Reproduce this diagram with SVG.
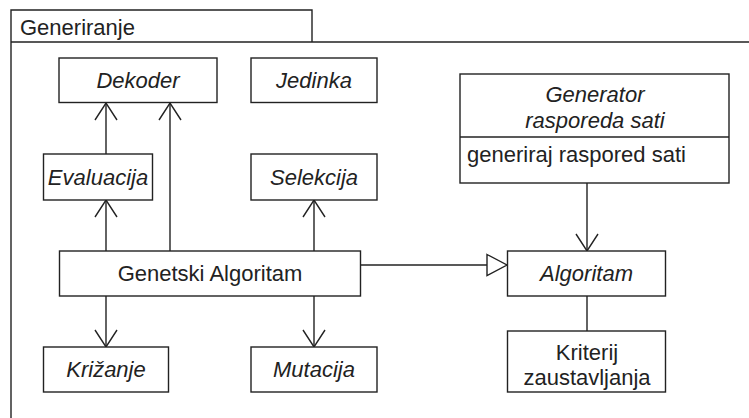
<svg xmlns="http://www.w3.org/2000/svg" width="749" height="418" viewBox="0 0 749 418">
<defs>
<style>
.box{fill:#fff;stroke:#222;stroke-width:1.4}
.ln{fill:none;stroke:#222;stroke-width:1.4}
text{font-family:"Liberation Sans",Arial,sans-serif;font-size:22px;fill:#222}
.i{font-style:italic}
.c{text-anchor:middle}
</style>
<marker id="open" viewBox="0 0 20 24" refX="18" refY="12" markerWidth="20" markerHeight="24" markerUnits="userSpaceOnUse" orient="auto">
<path d="M1,1 L18,12 L1,23" fill="none" stroke="#222" stroke-width="1.4"/>
</marker>
<marker id="tri" viewBox="0 0 22 24" refX="21" refY="12" markerWidth="22" markerHeight="24" markerUnits="userSpaceOnUse" orient="auto">
<path d="M1,1.5 L21,12 L1,22.5 Z" fill="#fff" stroke="#222" stroke-width="1.4"/>
</marker>
</defs>
<rect width="749" height="418" fill="#fff"/>
<g id="frame">
<path class="ln" d="M11,418 L11,10 L312,10 L312,42 M11,42 L749,42"/>
<text x="20" y="35">Generiranje</text>
</g>
<g id="connectors">
<line class="ln" x1="106" y1="251" x2="106" y2="200" marker-end="url(#open)"/>
<line class="ln" x1="106" y1="154" x2="106" y2="103" marker-end="url(#open)"/>
<line class="ln" x1="170" y1="251" x2="170" y2="103" marker-end="url(#open)"/>
<line class="ln" x1="314" y1="251" x2="314" y2="200" marker-end="url(#open)"/>
<line class="ln" x1="106" y1="296" x2="106" y2="347" marker-end="url(#open)"/>
<line class="ln" x1="314" y1="296" x2="314" y2="347" marker-end="url(#open)"/>
<line class="ln" x1="361" y1="265" x2="507" y2="265" marker-end="url(#tri)"/>
<line class="ln" x1="587" y1="183" x2="587" y2="251" marker-end="url(#open)"/>
<line class="ln" x1="587" y1="296" x2="587" y2="331"/>
</g>
<g id="dekoder"><rect class="box" x="59" y="58" width="158" height="44.5"/><text class="i c" x="138" y="87.5">Dekoder</text></g>
<g id="jedinka"><rect class="box" x="251" y="58" width="126" height="44.5"/><text class="i c" x="314" y="87.5">Jedinka</text></g>
<g id="evaluacija"><rect class="box" x="43.5" y="154" width="109" height="46"/><text class="i c" x="98" y="184.5">Evaluacija</text></g>
<g id="selekcija"><rect class="box" x="251" y="154" width="126" height="46"/><text class="i c" x="314" y="184.5">Selekcija</text></g>
<g id="genetski"><rect class="box" x="59.5" y="251" width="301" height="45"/><text class="c" x="210" y="281">Genetski Algoritam</text></g>
<g id="krizanje"><rect class="box" x="43.5" y="347" width="125" height="45"/><text class="i c" x="106" y="377">Križanje</text></g>
<g id="mutacija"><rect class="box" x="251" y="347" width="126" height="45"/><text class="i c" x="314" y="377">Mutacija</text></g>
<g id="generator"><rect class="box" x="460" y="74" width="269" height="109"/><line class="ln" x1="460" y1="137" x2="729" y2="137"/><text class="i c" x="595" y="102">Generator</text><text class="i c" x="595" y="127.5">rasporeda sati</text><text x="467" y="162">generiraj raspored sati</text></g>
<g id="algoritam"><rect class="box" x="507.5" y="251" width="158" height="45"/><text class="i c" x="586.5" y="281">Algoritam</text></g>
<g id="kriterij"><rect class="box" x="507.5" y="331" width="158" height="61"/><text class="c" x="587" y="359.5">Kriterij</text><text class="c" x="587" y="384.5">zaustavljanja</text></g>
</svg>
